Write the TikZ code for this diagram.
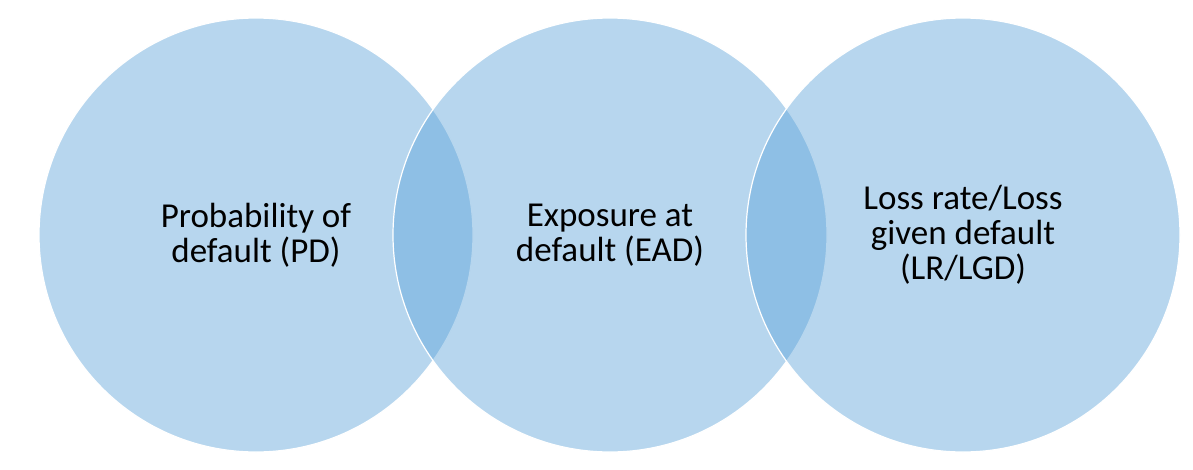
\documentclass[tikz,border=0pt]{standalone}
\usepackage{fontspec}
\setmainfont{Carlito}
\usepackage{tikz}
\definecolor{vennblue}{RGB}{88,160,216}

\tikzset{
  venn/.style={circle, minimum size=434pt, inner sep=0pt, fill=vennblue,
    fill opacity=0.43, text opacity=1, draw=white, line width=1.2pt,
    align=center, font=\fontsize{35}{35}\selectfont}
}

\begin{document}
\begin{tikzpicture}[x=1pt,y=-1pt]
			\useasboundingbox (0,0) rectangle (1193,469);
			\node[venn] (pd) at (256,235) {Probability of\\default (PD)};
			\node[venn] (ead) at (610,235) {Exposure at\\default (EAD)};
			\node[venn] (lgd) at (963,235) {Loss rate/Loss\\given default\\(LR/LGD)};
		\end{tikzpicture}
\end{document}
